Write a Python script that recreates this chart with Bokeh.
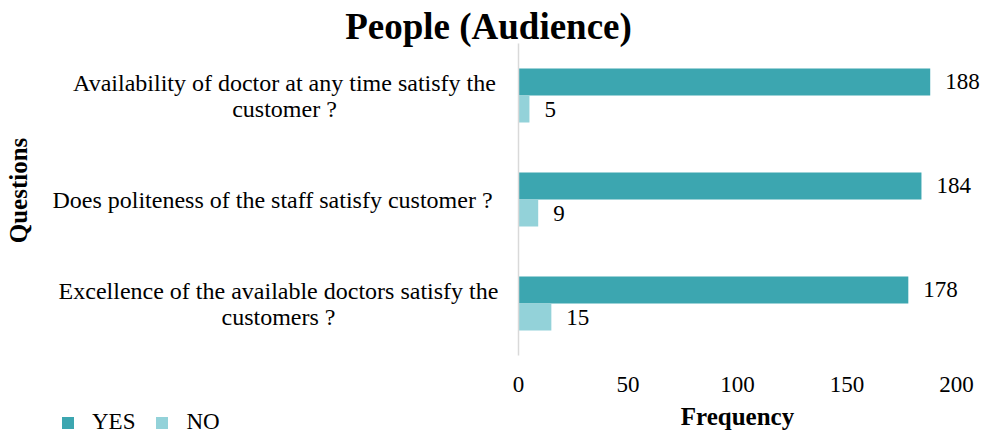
import math
from bokeh.plotting import figure
from bokeh.models import (ColumnDataSource, Range1d, FixedTicker, Label, LabelSet,
                          Legend, LegendItem)
from bokeh.transform import dodge
from bokeh.core.properties import value
from bokeh.embed import file_html
from bokeh.resources import INLINE

# ---------------- data ----------------
title_text = "People (Audience)"
questions = [
    "Availability of doctor at any time satisfy the\ncustomer ?",
    "Does politeness of  the staff satisfy customer ?",
    "Excellence of the available doctors satisfy the\ncustomers ?",
]
yes_values = [188, 184, 178]
no_values = [5, 9, 15]
series_names = ["YES", "NO"]
x_ticks = [0, 50, 100, 150, 200]
x_label = "Frequency"
y_label = "Questions"

# ---------------- styles / layout ----------------
FONT = "Liberation Serif"
YES_C = "#3CA6B0"
NO_C = "#93D2D9"
W, H = 992, 433
PLOT_L, PLOT_R, PLOT_T, PLOT_B = 518, 956, 43, 355   # pixel box of the data area
label_centers_px = [284, 275, 278]                   # horizontal centre of each question block

n = len(questions)
pos = [n - 1 - i for i in range(n)]  # first question on top

# ranges chosen so the data area lands on the pixel box while the frame fills the canvas
xs = (PLOT_R - PLOT_L) / (x_ticks[-1] - x_ticks[0])
ys = (PLOT_B - PLOT_T) / n
x_rng = Range1d(x_ticks[0] - PLOT_L / xs, x_ticks[-1] + (W - PLOT_R) / xs)
y_rng = Range1d(-0.5 - (H - PLOT_B) / ys, n - 0.5 + PLOT_T / ys)

src = ColumnDataSource(dict(
    pos=pos, yes=yes_values, no=no_values,
    yes_txt=[str(v) for v in yes_values], no_txt=[str(v) for v in no_values],
))

p = figure(width=W, height=H, x_range=x_rng, y_range=y_rng,
           output_backend="svg", toolbar_location=None, min_border=0)
p.title = None
p.outline_line_color = None
p.xgrid.visible = False
p.ygrid.visible = False

r_yes = p.hbar(y=dodge("pos", 0.13), left=0, right="yes", height=0.26, source=src,
               fill_color=YES_C, line_color=None)
r_no = p.hbar(y=dodge("pos", -0.13), left=0, right="no", height=0.26, source=src,
              fill_color=NO_C, line_color=None)

for col, txt, off in (("yes", "yes_txt", 0.13), ("no", "no_txt", -0.13)):
    p.add_layout(LabelSet(x=col, y=dodge("pos", off), text=txt, source=src,
                          x_offset=15, text_baseline="middle", text_align="left",
                          text_font=value(FONT), text_font_size=value("23px"),
                          text_color="black"))

# x axis, drawn at the bottom of the data area
xa = p.xaxis[0]
xa.fixed_location = -0.5
xa.bounds = (x_ticks[0], x_ticks[-1])
xa.ticker = FixedTicker(ticks=x_ticks)
xa.axis_line_color = None
xa.major_tick_line_color = None
xa.minor_tick_line_color = None
xa.major_tick_out = 0
xa.major_tick_in = 0
xa.major_label_standoff = 21
xa.major_label_text_font = FONT
xa.major_label_text_font_size = "23px"
xa.major_label_text_color = "black"
xa.axis_label = x_label
xa.axis_label_text_font = FONT
xa.axis_label_text_font_size = "25px"
xa.axis_label_text_font_style = "bold"
xa.axis_label_text_color = "black"
xa.axis_label_standoff = 8

# y axis: the light vertical line at x = 0
ya = p.yaxis[0]
ya.fixed_location = 0
ya.bounds = (-0.5, n - 0.5)
ya.ticker = FixedTicker(ticks=[])
ya.axis_line_color = "#d9d9d9"
ya.axis_line_width = 1.5
ya.major_tick_line_color = None
ya.minor_tick_line_color = None
ya.major_label_text_font_size = "0px"

# question labels (centred multi-line blocks left of the axis)
for q, y, cx in zip(questions, pos, label_centers_px):
    p.add_layout(Label(x=cx, y=y, x_units="screen", y_units="data", text=q,
                       text_align="center", text_baseline="middle",
                       text_font=FONT, text_font_size="24px", text_line_height=1.0,
                       text_color="black"))

# y axis title
p.add_layout(Label(x=18, y=H - 190, x_units="screen", y_units="screen", text=y_label,
                   angle=math.pi / 2, text_align="center", text_baseline="middle",
                   text_font=FONT, text_font_size="25px", text_font_style="bold",
                   text_color="black"))

# chart title
p.add_layout(Label(x=488, y=H - 26, x_units="screen", y_units="screen", text=title_text,
                   text_align="center", text_baseline="alphabetic",
                   text_font=FONT, text_font_size="37px", text_font_style="bold",
                   text_color="black"))

legend = Legend(items=[LegendItem(label=series_names[0], renderers=[r_yes]),
                       LegendItem(label=series_names[1], renderers=[r_no])],
                location=(60, -2), orientation="horizontal", padding=0, margin=0,
                spacing=19, glyph_width=15, glyph_height=15, label_standoff=17,
                label_text_font=FONT, label_text_font_size="23px", label_text_color="black",
                border_line_color=None, background_fill_alpha=0)
p.add_layout(legend)

open("out.html", "w").write(file_html(p, INLINE))
